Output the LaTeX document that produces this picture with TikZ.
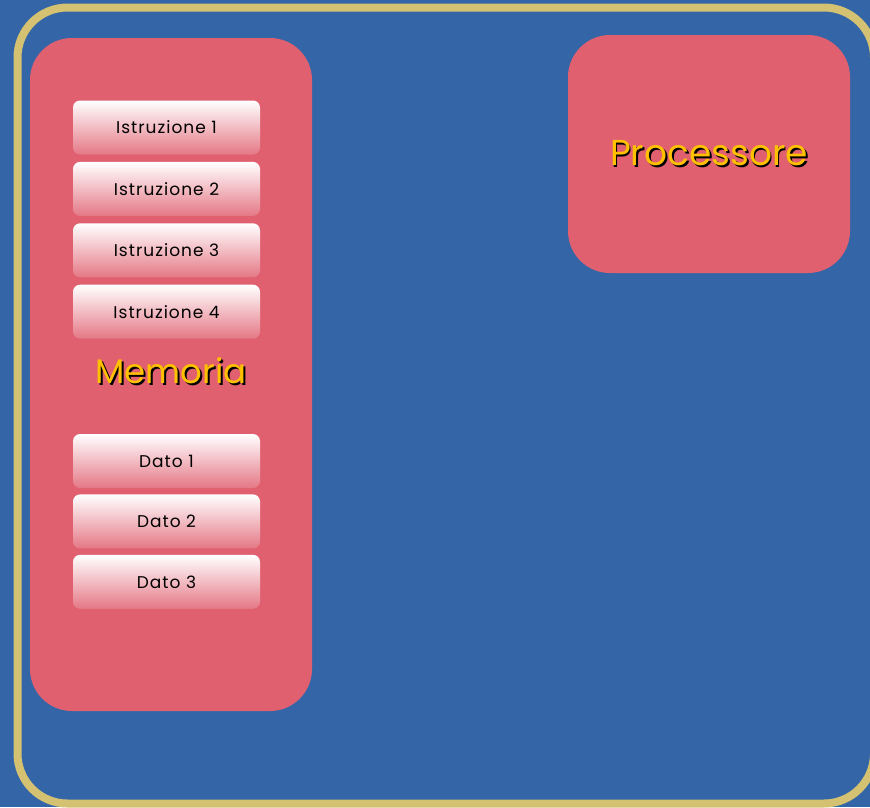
\documentclass[tikz,border=0pt]{standalone}
\usepackage{fontspec}
\setmainfont{Poppins}
\usetikzlibrary{positioning}
\definecolor{sfondo}{RGB}{52,101,166}
\definecolor{cornice}{RGB}{212,193,114}
\definecolor{rosa}{RGB}{224,96,112}
\definecolor{giallo}{RGB}{255,192,0}
\newcommand{\ombra}[1]{\rlap{\raisebox{-1.6pt}{\hspace{1.8pt}\color{black}#1}}{\color{giallo}#1}}
\tikzset{
  blocco/.style={fill=rosa, rounded corners=42pt, inner sep=0pt},
  cella/.style={rounded corners=7pt, top color=white, bottom color=rosa!85!white,
    minimum width=187pt, minimum height=54pt, inner sep=0pt,
    font=\fontsize{17}{20}\selectfont\addfontfeatures{LetterSpace=6}}
}

\begin{document}
\begin{tikzpicture}[x=1pt,y=-1pt]
      \useasboundingbox (0,0) rectangle (870,807);
      \fill[sfondo] (0,0) rectangle (870,807);
      \begin{scope}
        \clip (0,0) rectangle (870,807);
        \draw[cornice, line width=8pt, rounded corners=50pt] (17.5,7.5) rectangle (874,803.5);
      \end{scope}

      \node [blocco,
        minimum width=282pt,
        minimum height=673pt
      ] (memoria) at (171,374.5) {};

      \node [blocco,
        minimum width=282pt,
        minimum height=238pt
      ] (processore) at (709,154) {\fontsize{36}{40}\selectfont\ombra{Processore}};

      \node [cella] (istr1) at (166.5,127.5) {Istruzione 1};
      \node [cella, below=7pt of istr1] (istr2) {Istruzione 2};
      \node [cella, below=7pt of istr2] (istr3) {Istruzione 3};
      \node [cella, below=7pt of istr3] (istr4) {Istruzione 4};

      \node (etichetta) at (171,372) {\fontsize{34}{40}\selectfont\ombra{Memoria}};

      \node [cella] (dato1) at (166.5,461) {Dato 1};
      \node [cella, below=6pt of dato1] (dato2) {Dato 2};
      \node [cella, below=6pt of dato2] (dato3) {Dato 3};
    \end{tikzpicture}
\end{document}
